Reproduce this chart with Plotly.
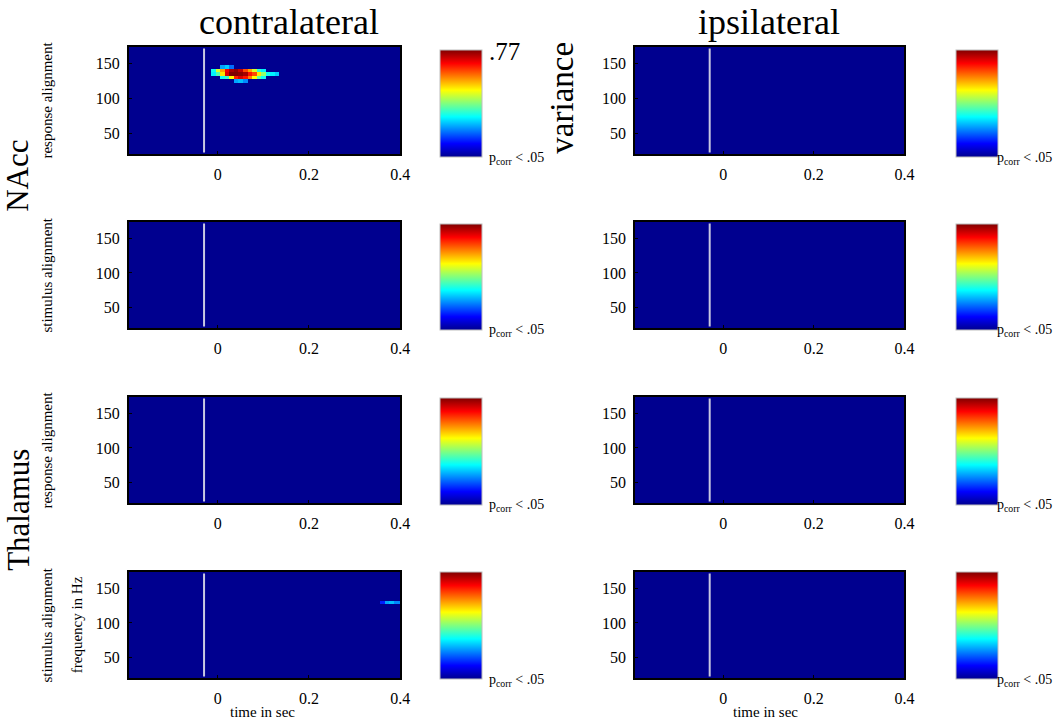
import numpy as np
import plotly.graph_objects as go

W, H = 1063, 723

# ---- grid (bin centres) ----
time_start, time_step, n_time = -0.19, 0.01, 60
freq_start, freq_step, n_freq = 20, 5, 32
time_bins = np.round(time_start + time_step * np.arange(n_time), 3)
freq_bins = freq_start + freq_step * np.arange(n_freq)

# ---- significant cells (time, freq, value); everything else is 0 (p_corr >= .05) ----
nacc_contra_resp_t = [0.01, 0.02, 0.03,
                      -0.01, 0.00, 0.01, 0.02, 0.03, 0.04, 0.05, 0.06, 0.07, 0.08, 0.09, 0.10,
                      -0.01, 0.00, 0.01, 0.02, 0.03, 0.04, 0.05, 0.06, 0.07, 0.08, 0.09, 0.10, 0.11, 0.12, 0.13,
                      0.01, 0.02, 0.03, 0.04, 0.05, 0.06, 0.07, 0.08, 0.09, 0.10,
                      0.04, 0.05, 0.06]
nacc_contra_resp_f = [145, 145, 145,
                      140, 140, 140, 140, 140, 140, 140, 140, 140, 140, 140, 140,
                      135, 135, 135, 135, 135, 135, 135, 135, 135, 135, 135, 135, 135, 135, 135,
                      130, 130, 130, 130, 130, 130, 130, 130, 130, 130,
                      125, 125, 125]
nacc_contra_resp_v = [0.22, 0.25, 0.18,
                      0.30, 0.45, 0.55, 0.68, 0.74, 0.76, 0.72, 0.62, 0.55, 0.45, 0.32, 0.28,
                      0.28, 0.35, 0.50, 0.70, 0.77, 0.77, 0.76, 0.74, 0.66, 0.62, 0.50, 0.40, 0.30, 0.28, 0.25,
                      0.30, 0.33, 0.48, 0.65, 0.70, 0.66, 0.58, 0.48, 0.36, 0.30,
                      0.22, 0.24, 0.20]

thal_contra_stim_t = [0.36, 0.37, 0.38, 0.39, 0.40]
thal_contra_stim_f = [130, 130, 130, 130, 130]
thal_contra_stim_v = [0.12, 0.22, 0.24, 0.20, 0.20]

empty_t, empty_f, empty_v = [], [], []

z_max = 0.77
stim_line_time = -0.03

col_titles = ["contralateral", "ipsilateral"]
row_groups = ["NAcc", "Thalamus"]
row_labels = ["response alignment", "stimulus alignment", "response alignment", "stimulus alignment"]
x_tickvals = [0, 0.2, 0.4]
x_ticktext = ["0", "0.2", "0.4"]
y_tickvals = [50, 100, 150]
y_ticktext = ["50", "100", "150"]

panels = [  # (row, col, t, f, v)
    (0, 0, nacc_contra_resp_t, nacc_contra_resp_f, nacc_contra_resp_v),
    (0, 1, empty_t, empty_f, empty_v),
    (1, 0, empty_t, empty_f, empty_v),
    (1, 1, empty_t, empty_f, empty_v),
    (2, 0, empty_t, empty_f, empty_v),
    (2, 1, empty_t, empty_f, empty_v),
    (3, 0, thal_contra_stim_t, thal_contra_stim_f, thal_contra_stim_v),
    (3, 1, empty_t, empty_f, empty_v),
]

jet = [[0.0, "rgb(0,0,143)"], [0.125, "rgb(0,0,255)"], [0.375, "rgb(0,255,255)"],
       [0.625, "rgb(255,255,0)"], [0.875, "rgb(255,0,0)"], [1.0, "rgb(128,0,0)"]]

# pixel layout
ax_x = [(130, 404), (641, 913)]
ax_y = [(47, 154), (222, 328), (397, 503), (572, 678)]
cb_x = [444, 965]
cb_y = [(50, 157), (224, 330), (398, 505), (572, 679)]

def px(x):
    return x / W

def py(y):
    return 1 - y / H

SERIF = "Liberation Serif"
fig = go.Figure()
layout = dict(width=W, height=H, margin=dict(l=0, r=0, t=0, b=0),
              paper_bgcolor="white", plot_bgcolor="rgb(0,0,143)", showlegend=False,
              font=dict(family=SERIF, color="black"))
shapes = []
annotations = []

for i, (r, c, ts, fs, vs) in enumerate(panels):
    n = i + 1
    z = np.zeros((n_freq, n_time))
    for t, f, v in zip(ts, fs, vs):
        ti = int(np.argmin(np.abs(time_bins - t)))
        fi = int(np.argmin(np.abs(freq_bins - f)))
        z[fi, ti] = v
    xa = "x" if n == 1 else f"x{n}"
    ya = "y" if n == 1 else f"y{n}"
    cy0, cy1 = cb_y[r]
    fig.add_trace(go.Heatmap(
        x=time_bins, y=freq_bins, z=z, zmin=0, zmax=z_max, colorscale=jet,
        xaxis=xa, yaxis=ya,
        colorbar=dict(x=px(cb_x[c]), xanchor="left", thickness=42, thicknessmode="pixels",
                      len=(cy1 - cy0) / H, lenmode="fraction", y=py((cy0 + cy1) / 2), yanchor="middle",
                      xpad=0, ypad=0, showticklabels=False, ticks="",
                      outlinewidth=1, outlinecolor="rgb(190,190,190)"),
    ))
    x0, x1 = ax_x[c]
    y0, y1 = ax_y[r]
    xkey = "xaxis" if n == 1 else f"xaxis{n}"
    ykey = "yaxis" if n == 1 else f"yaxis{n}"
    layout[xkey] = dict(domain=[px(x0), px(x1)], anchor=ya, range=[-0.195, 0.4],
                        tickvals=x_tickvals, ticktext=x_ticktext, ticks="inside", ticklen=3,
                        tickcolor="black", showgrid=False, zeroline=False,
                        showline=True, linecolor="black", linewidth=1.5, mirror=True,
                        tickfont=dict(family=SERIF, size=16, color="black"), ticklabelstandoff=5)
    layout[ykey] = dict(domain=[py(y1), py(y0)], anchor=xa, range=[20, 174],
                        tickvals=y_tickvals, ticktext=y_ticktext, ticks="inside", ticklen=3,
                        tickcolor="black", showgrid=False, zeroline=False,
                        showline=True, linecolor="black", linewidth=1.5, mirror=True,
                        tickfont=dict(family=SERIF, size=16, color="black"), ticklabelstandoff=4)
    shapes.append(dict(type="line", xref=xa, yref=ya, x0=stim_line_time, x1=stim_line_time,
                       y0=22, y1=172, line=dict(color="rgb(200,200,225)", width=2)))
    # p_corr label
    annotations.append(dict(xref="paper", yref="paper",
                            x=px(492 if c == 0 else 1004), y=py(cy1 + 1),
                            xanchor="left", yanchor="middle", showarrow=False,
                            text="p<sub>corr</sub> &lt; .05",
                            font=dict(family=SERIF, size=14, color="black")))

def ann(text, x, y, size, angle=0, xanchor="center"):
    annotations.append(dict(xref="paper", yref="paper", x=px(x), y=py(y), text=text,
                            showarrow=False, textangle=angle, xanchor=xanchor, yanchor="middle",
                            font=dict(family=SERIF, size=size, color="black")))

ann(col_titles[0], 292, 22, 36)
ann(col_titles[1], 776, 22, 36)
ann(row_groups[0], 17, 176, 31, -90)
ann(row_groups[1], 18, 510, 31, -90)
for k, yy in enumerate([100, 275, 450, 625]):
    ann(row_labels[k], 47, yy, 15, -90)
ann("frequency in Hz", 78, 625, 15, -90)
ann("time in sec", 265, 712, 15)
ann("time in sec", 773, 712, 15)
ann(".77", 492, 52, 25, 0, "left")
ann("variance", 567, 98, 33, -90)

layout["shapes"] = shapes
layout["annotations"] = annotations
fig.update_layout(**layout)
fig.write_html("out.html", config={"displayModeBar": False},
               post_script="document.body.style.margin='0';document.body.style.overflow='hidden';")
